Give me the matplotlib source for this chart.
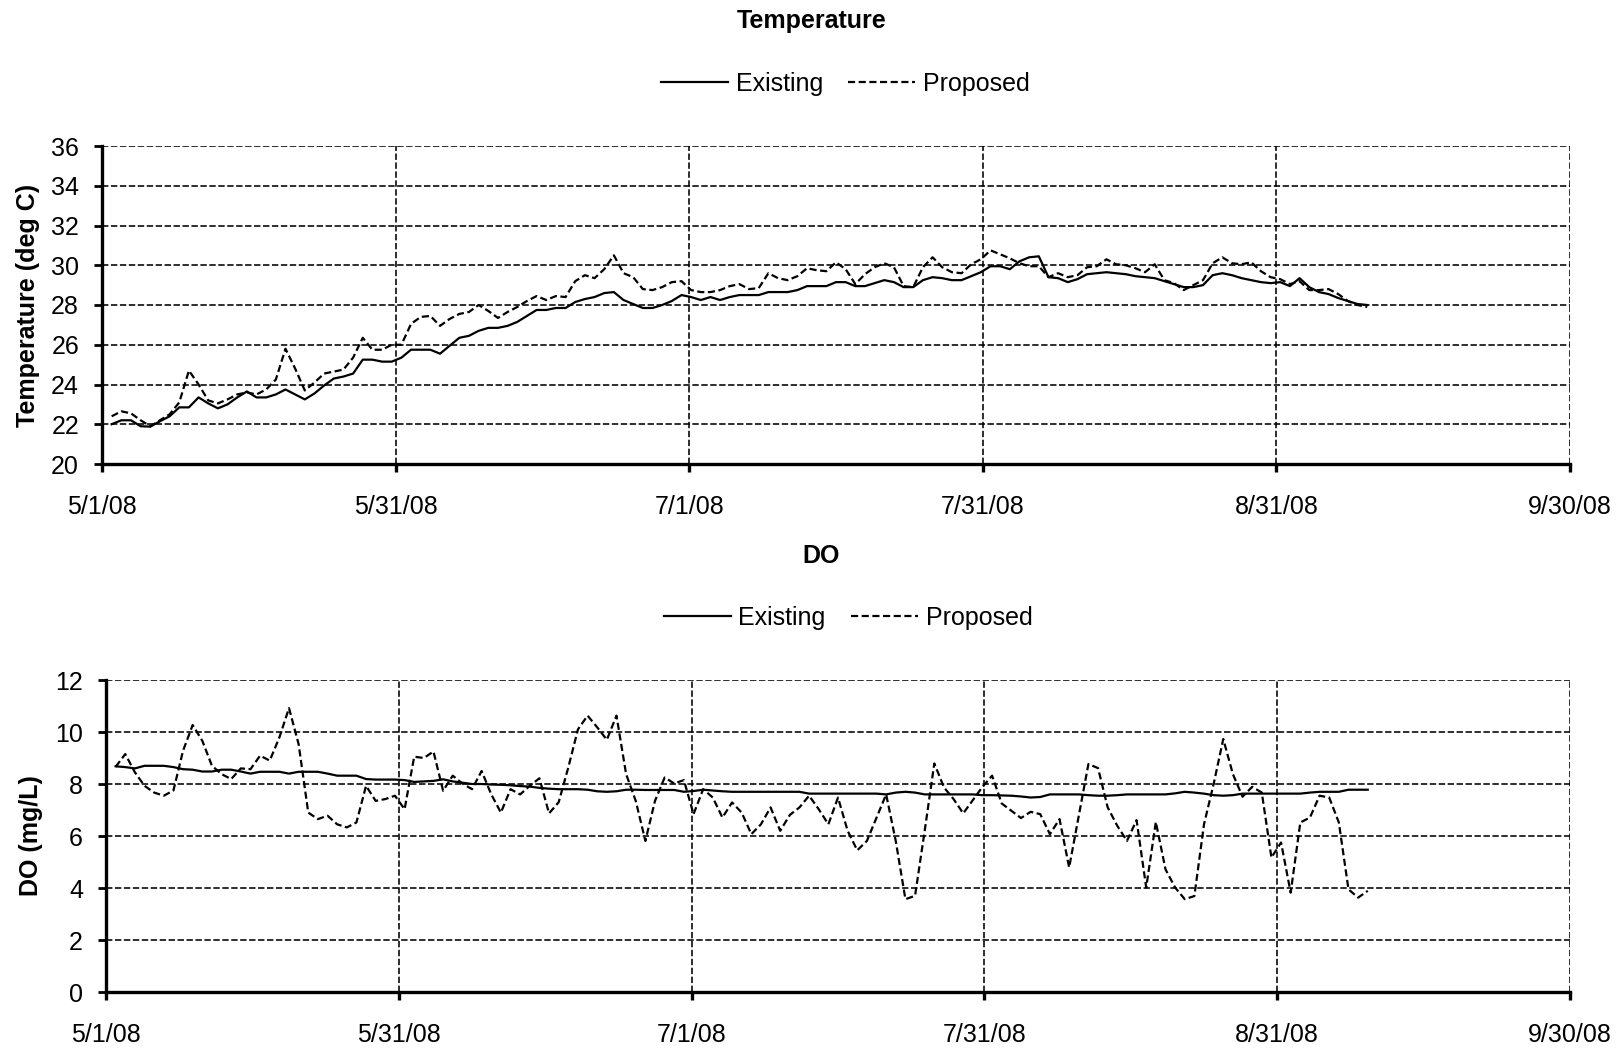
import numpy as np
import matplotlib
matplotlib.use("Agg")
import matplotlib.pyplot as plt
from matplotlib.lines import Line2D

plt.rcParams['font.family'] = ['Liberation Sans', 'DejaVu Sans']

# ---------------- data ----------------
x_tick_labels = ["5/1/08", "5/31/08", "7/1/08", "7/31/08", "8/31/08", "9/30/08"]
x_span_days = 152  # 5/1/08 .. 9/30/08

temp_existing = [
    22.0, 22.2, 22.2, 21.9, 21.88, 22.15, 22.4, 22.85, 22.85, 23.35,
    23.05, 22.8, 23.0, 23.35, 23.65, 23.35, 23.35, 23.5, 23.75, 23.5,
    23.25, 23.55, 23.95, 24.3, 24.4, 24.55, 25.25, 25.25, 25.15, 25.15,
    25.35, 25.75, 25.75, 25.75, 25.55, 25.95, 26.35, 26.45, 26.7, 26.85,
    26.85, 26.95, 27.15, 27.45, 27.75, 27.75, 27.85, 27.85, 28.15, 28.3,
    28.4, 28.6, 28.65, 28.25, 28.05, 27.85, 27.85, 28.0, 28.2, 28.5,
    28.4, 28.25, 28.4, 28.25, 28.4, 28.5, 28.5, 28.5, 28.65, 28.65,
    28.65, 28.75, 28.95, 28.95, 28.95, 29.15, 29.15, 28.95, 28.95, 29.1,
    29.25, 29.15, 28.9, 28.9, 29.25, 29.4, 29.35, 29.25, 29.25, 29.45,
    29.65, 29.95, 29.95, 29.8, 30.2, 30.4, 30.45, 29.4, 29.35, 29.15,
    29.3, 29.55, 29.6, 29.65, 29.6, 29.55, 29.45, 29.4, 29.35, 29.2,
    29.05, 28.9, 28.9, 29.0, 29.5, 29.6, 29.5, 29.35, 29.25, 29.15,
    29.1, 29.15, 28.95, 29.35, 28.9, 28.65, 28.55, 28.35, 28.2, 28.05,
    28.0,
]

temp_proposed = [
    22.4, 22.65, 22.55, 22.2, 21.9, 22.2, 22.5, 23.1, 24.7, 24.0,
    23.2, 23.05, 23.25, 23.5, 23.6, 23.5, 23.75, 24.25, 25.8, 24.8,
    23.7, 24.1, 24.55, 24.65, 24.75, 25.35, 26.35, 25.75, 25.75, 26.0,
    26.0, 27.05, 27.4, 27.45, 26.95, 27.3, 27.55, 27.65, 28.0, 27.7,
    27.35, 27.65, 27.9, 28.2, 28.45, 28.25, 28.45, 28.4, 29.2, 29.5,
    29.35, 29.8, 30.5, 29.6, 29.4, 28.8, 28.75, 28.9, 29.15, 29.2,
    28.75, 28.65, 28.65, 28.75, 28.95, 29.05, 28.8, 28.85, 29.6, 29.35,
    29.25, 29.45, 29.85, 29.75, 29.7, 30.15, 29.8, 29.05, 29.55, 29.9,
    30.1, 29.9, 28.95, 28.9, 29.9, 30.4, 29.9, 29.65, 29.6, 30.05,
    30.3, 30.75, 30.55, 30.35, 30.1, 29.95, 29.95, 29.4, 29.6, 29.4,
    29.5, 29.9, 29.95, 30.3, 30.05, 30.0, 29.85, 29.65, 30.05, 29.25,
    29.1, 28.75, 29.0, 29.25, 30.1, 30.4, 30.1, 30.05, 30.15, 29.7,
    29.4, 29.3, 29.05, 29.2, 28.75, 28.75, 28.8, 28.55, 28.2, 28.0,
    27.9,
]

do_existing = [
    8.68, 8.65, 8.6, 8.7, 8.7, 8.7, 8.65, 8.57, 8.55, 8.48,
    8.48, 8.55, 8.55, 8.48, 8.4, 8.47, 8.47, 8.47, 8.4, 8.47,
    8.47, 8.47, 8.4, 8.32, 8.32, 8.32, 8.19, 8.17, 8.17, 8.17,
    8.15, 8.08, 8.1, 8.12, 8.18, 8.1, 8.05, 8.0, 8.0, 7.98,
    7.97, 7.95, 7.92, 7.9, 7.85, 7.82, 7.8, 7.8, 7.8, 7.78,
    7.72, 7.7, 7.72, 7.78, 7.78, 7.77, 7.77, 7.77, 7.77, 7.7,
    7.73, 7.78, 7.75, 7.72, 7.7, 7.7, 7.7, 7.7, 7.7, 7.7,
    7.7, 7.7, 7.63, 7.63, 7.63, 7.63, 7.63, 7.63, 7.63, 7.63,
    7.6, 7.67, 7.7, 7.67, 7.6, 7.6, 7.6, 7.6, 7.6, 7.6,
    7.57, 7.57, 7.56, 7.55, 7.52, 7.48, 7.5, 7.6, 7.6, 7.6,
    7.6, 7.57, 7.55, 7.55, 7.57, 7.6, 7.6, 7.6, 7.6, 7.6,
    7.64, 7.7, 7.67, 7.63, 7.57, 7.55, 7.57, 7.63, 7.63, 7.63,
    7.63, 7.63, 7.63, 7.63, 7.67, 7.7, 7.7, 7.7, 7.78, 7.78,
    7.78,
]

do_proposed = [
    8.66, 9.15, 8.45, 7.93, 7.67, 7.55, 7.75, 9.28, 10.27, 9.66,
    8.7, 8.38, 8.19, 8.6, 8.57, 9.09, 8.9, 9.79, 10.92, 9.53,
    6.9, 6.65, 6.78, 6.45, 6.33, 6.52, 7.93, 7.35, 7.42, 7.55,
    7.03, 9.05, 9.0, 9.25, 7.74, 8.32, 8.02, 7.8, 8.5, 7.6,
    6.9, 7.8, 7.6, 7.93, 8.22, 6.87, 7.3, 8.64, 10.1, 10.63,
    10.18, 9.7, 10.63, 8.38, 7.35, 5.81, 7.35, 8.25, 8.02, 8.15,
    6.84, 7.8, 7.48, 6.71, 7.29, 6.9, 6.07, 6.45, 7.1, 6.2,
    6.81, 7.1, 7.55, 7.03, 6.45, 7.48, 6.2, 5.45, 5.81, 6.71,
    7.6, 5.8, 3.57, 3.7, 6.2, 8.79, 7.87, 7.42, 6.87, 7.38,
    7.89, 8.32, 7.25, 6.97, 6.69, 6.93, 6.84, 6.07, 6.65, 4.79,
    6.78, 8.77, 8.61, 7.1, 6.39, 5.81, 6.61, 4.02, 6.54, 4.72,
    4.02, 3.57, 3.69, 6.45, 8.0, 9.73, 8.38, 7.51, 7.89, 7.67,
    5.17, 5.75, 3.82, 6.52, 6.71, 7.55, 7.48, 6.52, 3.95, 3.63,
    3.89,
]

days = np.arange(1, len(temp_existing) + 1)
do_days = np.arange(1, len(do_existing) + 1)

# ---------------- figure ----------------
W, H = 1623, 1048
fig = plt.figure(figsize=(W / 100, H / 100), dpi=100)

FS = 18
dash_series = (0, (3.2, 1.6))
dash_grid = (0, (4.0, 1.6))


def style_axes(ax, ylim, ystep):
    ax.set_xlim(0, x_span_days)
    ax.set_ylim(*ylim)
    ax.set_xticks(np.linspace(0, x_span_days, len(x_tick_labels)))
    ax.set_xticklabels(x_tick_labels)
    ax.set_yticks(np.arange(ylim[0], ylim[1] + 0.001, ystep))
    ax.grid(True, color='black', linestyle=dash_grid, linewidth=1.15)
    ax.set_axisbelow(True)
    for s in ('top', 'right'):
        ax.spines[s].set_visible(False)
    for s in ('left', 'bottom'):
        ax.spines[s].set_linewidth(2.4)
        ax.spines[s].set_color('black')
    ax.tick_params(axis='y', direction='out', length=5.5, width=2.0,
                   labelsize=FS, pad=11)
    ax.tick_params(axis='x', direction='out', length=6, width=2.4,
                   labelsize=FS, pad=16)


def fx(px):
    return px / W


def fy(py):
    return 1 - py / H


# Temperature panel
ax1 = fig.add_axes([fx(102), fy(464), fx(1570) - fx(102), fy(146) - fy(464)])
ax1.plot(days, temp_existing, color='black', lw=1.6, label='Existing')
ax1.plot(days, temp_proposed, color='black', lw=1.6,
         linestyle=dash_series, label='Proposed')
style_axes(ax1, (20, 36), 2)

# DO panel
ax2 = fig.add_axes([fx(106), fy(992), fx(1570) - fx(106), fy(680) - fy(992)])
ax2.plot(do_days, do_existing, color='black', lw=1.6, label='Existing')
ax2.plot(do_days, do_proposed, color='black', lw=1.6,
         linestyle=dash_series, label='Proposed')
style_axes(ax2, (0, 12), 2)

# Titles
fig.text(0.5, fy(21), "Temperature", ha='center', va='center',
         fontsize=FS, fontweight='bold')
fig.text(fx(821), fy(556), "DO", ha='center', va='center',
         fontsize=FS, fontweight='bold')

# Y labels
fig.text(fx(28), fy(305), "Temperature (deg C)", rotation=90,
         ha='center', va='center', fontsize=FS, fontweight='bold')
fig.text(fx(31), fy(836), "DO (mg/L)", rotation=90,
         ha='center', va='center', fontsize=FS, fontweight='bold')

# Legends
handles = [Line2D([], [], color='black', lw=1.6),
           Line2D([], [], color='black', lw=1.6, linestyle=dash_series)]
labels = ['Existing', 'Proposed']
for cx, cy in ((845, 84), (848, 618)):
    fig.legend(handles, labels, loc='center', bbox_to_anchor=(fx(cx), fy(cy)),
               ncol=2, frameon=False, fontsize=FS, handlelength=2.7,
               handletextpad=0.3, columnspacing=1.0,
               borderaxespad=0, borderpad=0)

fig.savefig("out.png", dpi=100, facecolor='white')
